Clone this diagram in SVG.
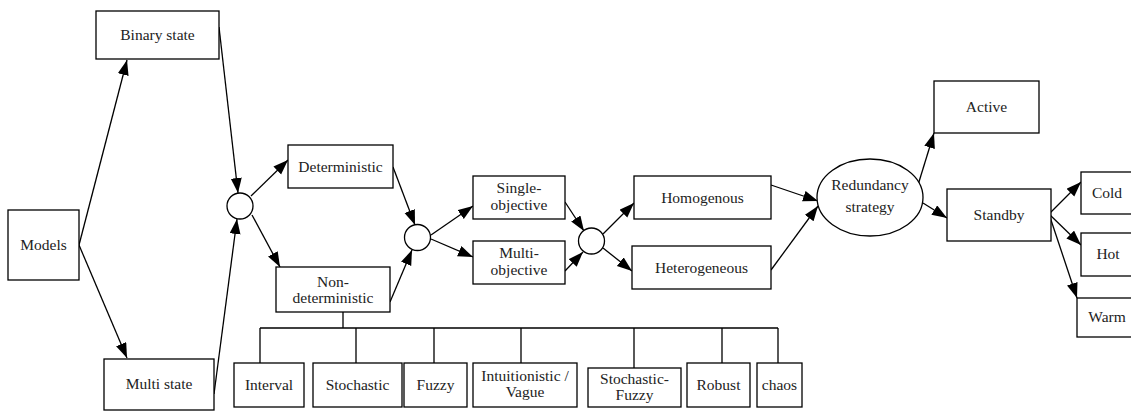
<svg xmlns="http://www.w3.org/2000/svg" width="1131" height="411" viewBox="0 0 1131 411">
<style>
.n{fill:#fff;stroke:#000;stroke-width:1.3}
.e{fill:none;stroke:#000;stroke-width:1.3}
.a{marker-end:url(#ah)}
</style>
<defs>
<marker id="ah" markerUnits="userSpaceOnUse" markerWidth="16" markerHeight="12" refX="15" refY="5.5" orient="auto" viewBox="0 0 16 12">
<path d="M0,0 L15,5.5 L0,11 z" fill="#000"/>
</marker>
</defs>
<rect width="1131" height="411" fill="#fff"/>
<g id="connectors">
<line class="e a" x1="79" y1="245" x2="127" y2="60"/>
<line class="e a" x1="79" y1="245" x2="127" y2="358"/>
<line class="e a" x1="219" y1="27" x2="238" y2="193"/>
<line class="e a" x1="214" y1="394" x2="237" y2="219"/>
<line class="e a" x1="251" y1="196" x2="288" y2="160"/>
<line class="e a" x1="252" y1="215" x2="280" y2="267"/>
<line class="e a" x1="393" y1="167" x2="415" y2="225"/>
<line class="e a" x1="390" y1="302" x2="412" y2="250"/>
<line class="e a" x1="431" y1="235" x2="473" y2="206"/>
<line class="e a" x1="431" y1="239" x2="473" y2="257"/>
<line class="e a" x1="565" y1="202" x2="584" y2="231"/>
<line class="e a" x1="565" y1="271" x2="583" y2="252"/>
<line class="e a" x1="603" y1="234" x2="634" y2="203"/>
<line class="e a" x1="603" y1="248" x2="632" y2="271"/>
<line class="e a" x1="771" y1="185" x2="818" y2="201"/>
<line class="e a" x1="771" y1="270" x2="818" y2="206"/>
<line class="e a" x1="918" y1="185" x2="934" y2="133"/>
<line class="e a" x1="923" y1="203" x2="947" y2="218"/>
<line class="e a" x1="1049" y1="214" x2="1081" y2="182"/>
<line class="e a" x1="1049" y1="214" x2="1081" y2="245"/>
<line class="e a" x1="1049" y1="214" x2="1077" y2="298"/>
<path class="e" d="M343,312 V328 M260,328 H778 M260,328 V363 M356,328 V363 M434,328 V363 M521,328 V363 M634,328 V368 M722,328 V363 M778,328 V363"/>
</g>
<g font-family="'Liberation Serif', serif" font-size="15.5" text-anchor="middle" fill="#222">
<g id="models"><rect class="n" x="8" y="210" width="71" height="70"/><text x="43.5" y="250">Models</text></g>
<g id="binary"><rect class="n" x="96" y="11" width="123" height="48"/><text x="157.5" y="40">Binary state</text></g>
<g id="multi"><rect class="n" x="104" y="359" width="110" height="51"/><text x="159" y="389">Multi state</text></g>
<g id="j1"><circle class="n" cx="240" cy="206" r="13"/></g>
<g id="deterministic"><rect class="n" x="288" y="145" width="105" height="43"/><text x="340.5" y="172">Deterministic</text></g>
<g id="nondet"><rect class="n" x="276" y="267" width="114" height="45"/><text x="333" y="287">Non-</text><text x="333" y="303">deterministic</text></g>
<g id="j2"><circle class="n" cx="417.5" cy="237.5" r="13"/></g>
<g id="single"><rect class="n" x="473" y="176" width="92" height="43"/><text x="519" y="193">Single-</text><text x="519" y="210">objective</text></g>
<g id="multiobj"><rect class="n" x="473" y="241" width="92" height="43"/><text x="519" y="258">Multi-</text><text x="519" y="275">objective</text></g>
<g id="j3"><circle class="n" cx="591.5" cy="241" r="13"/></g>
<g id="homog"><rect class="n" x="634" y="176" width="137" height="43"/><text x="702.5" y="203">Homogenous</text></g>
<g id="heterog"><rect class="n" x="632" y="246" width="139" height="43"/><text x="701.5" y="273">Heterogeneous</text></g>
<g id="redundancy"><ellipse class="n" cx="870" cy="197.5" rx="53" ry="38.5"/><text x="870" y="190">Redundancy</text><text x="870" y="212">strategy</text></g>
<g id="active"><rect class="n" x="934" y="81" width="105" height="52"/><text x="986.5" y="112">Active</text></g>
<g id="standby"><rect class="n" x="947" y="189" width="104" height="52"/><text x="999" y="220">Standby</text></g>
<g id="cold"><rect class="n" x="1081" y="172" width="60" height="42"/><text x="1107" y="198">Cold</text></g>
<g id="hot"><rect class="n" x="1081" y="233" width="60" height="43"/><text x="1108" y="259">Hot</text></g>
<g id="warm"><rect class="n" x="1077" y="298" width="64" height="39"/><text x="1107" y="322">Warm</text></g>
<g id="interval"><rect class="n" x="234" y="363" width="70" height="44"/><text x="269" y="390">Interval</text></g>
<g id="stochastic"><rect class="n" x="313" y="363" width="89" height="44"/><text x="357.5" y="390">Stochastic</text></g>
<g id="fuzzy"><rect class="n" x="404" y="363" width="63" height="44"/><text x="435.5" y="390">Fuzzy</text></g>
<g id="intuitionistic"><rect class="n" x="473" y="363" width="104" height="44"/><text x="525" y="381">Intuitionistic /</text><text x="525" y="397">Vague</text></g>
<g id="stochfuzzy"><rect class="n" x="588" y="368" width="93" height="39"/><text x="634.5" y="384">Stochastic-</text><text x="634.5" y="400">Fuzzy</text></g>
<g id="robust"><rect class="n" x="687" y="363" width="63" height="44"/><text x="718.5" y="390">Robust</text></g>
<g id="chaos"><rect class="n" x="757" y="363" width="45" height="44"/><text x="779.5" y="390">chaos</text></g>
</g>
</svg>
